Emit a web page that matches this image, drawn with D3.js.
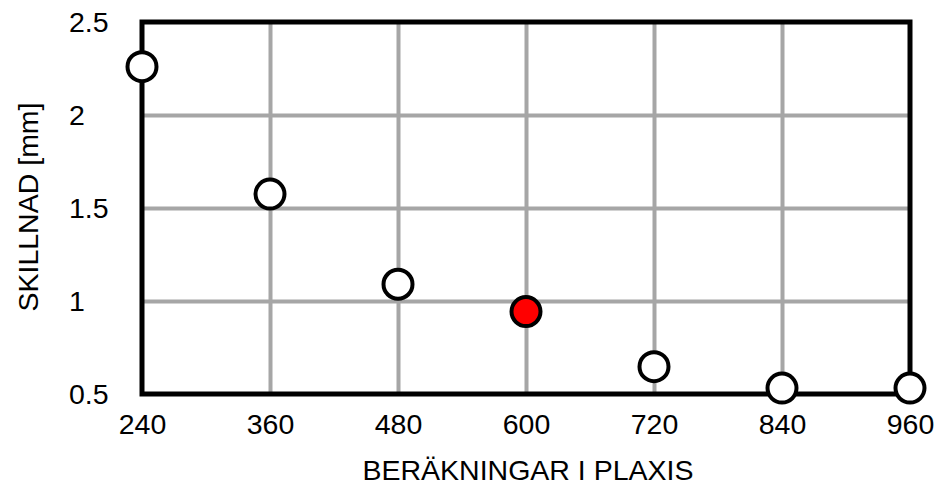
<!DOCTYPE html>
<html>
<head>
<meta charset="utf-8">
<script src="https://cdn.jsdelivr.net/npm/d3@7"></script>
<style>
  body { margin: 0; background: #fff; }
  svg { display: block; font-family: "Liberation Sans", Arial, sans-serif; }
</style>
</head>
<body>
<svg id="chart" width="940" height="487"></svg>
<script>
const xValues = [240, 360, 480, 600, 720, 840, 960];
const yValues = [2.26, 1.575, 1.09, 0.943, 0.647, 0.532, 0.532];
const highlight = [false, false, false, true, false, false, false];
const xTicks = [240, 360, 480, 600, 720, 840, 960];
const yTicks = [0.5, 1, 1.5, 2, 2.5];
const xTitle = "BERÄKNINGAR I PLAXIS";
const yTitle = "SKILLNAD [mm]";

const svg = d3.select("#chart");
const m = { left: 142, right: 910, top: 22, bottom: 394 };
const x = d3.scaleLinear().domain([240, 960]).range([m.left, m.right]);
const y = d3.scaleLinear().domain([0.5, 2.5]).range([m.bottom, m.top]);
const fontSize = 28.5;

// gridlines via axes
const gx = svg.append("g").attr("transform", `translate(0,${m.bottom})`)
  .call(d3.axisBottom(x).tickValues(xTicks.slice(1, -1)).tickSize(-(m.bottom - m.top)).tickFormat(""));
gx.select(".domain").remove();
gx.selectAll("line").attr("stroke", "#a6a6a6").attr("stroke-width", 4);

const gy = svg.append("g").attr("transform", `translate(${m.left},0)`)
  .call(d3.axisLeft(y).tickValues(yTicks.slice(1, -1)).tickSize(-(m.right - m.left)).tickFormat(""));
gy.select(".domain").remove();
gy.selectAll("line").attr("stroke", "#a6a6a6").attr("stroke-width", 4);

// frame
svg.append("rect")
  .attr("x", m.left).attr("y", m.top)
  .attr("width", m.right - m.left).attr("height", m.bottom - m.top)
  .attr("fill", "none").attr("stroke", "#000").attr("stroke-width", 5);

// tick labels via axes
const ax = svg.append("g").attr("transform", `translate(0,${m.bottom})`)
  .call(d3.axisBottom(x).tickValues(xTicks).tickSize(0).tickPadding(0).tickFormat(d => d));
ax.select(".domain").remove();
ax.selectAll("text").attr("font-size", fontSize).attr("font-family", null)
  .attr("fill", "#000").attr("dy", null).attr("y", 40);

const ay = svg.append("g").attr("transform", `translate(${m.left},0)`)
  .call(d3.axisLeft(y).tickValues(yTicks).tickSize(0).tickFormat(d => d));
ay.select(".domain").remove();
ay.selectAll("text").attr("font-size", fontSize).attr("font-family", null)
  .attr("fill", "#000").attr("text-anchor", "start").attr("x", 69 - m.left)
  .attr("dy", null).attr("y", 9);

// titles
svg.append("text")
  .attr("x", 528).attr("y", 480)
  .attr("text-anchor", "middle")
  .attr("font-size", fontSize)
  .text(xTitle);
svg.append("text")
  .attr("transform", "translate(38,207) rotate(-90)")
  .attr("text-anchor", "middle")
  .attr("font-size", fontSize)
  .text(yTitle);

// points
const pts = xValues.map((v, i) => ({ x: v, y: yValues[i], h: highlight[i] }));
svg.append("g").selectAll("circle").data(pts).join("circle")
  .attr("cx", d => x(d.x)).attr("cy", d => y(d.y))
  .attr("r", 14.5)
  .attr("fill", d => d.h ? "#ff0000" : "#ffffff")
  .attr("stroke", "#000").attr("stroke-width", 4);
</script>
</body>
</html>
